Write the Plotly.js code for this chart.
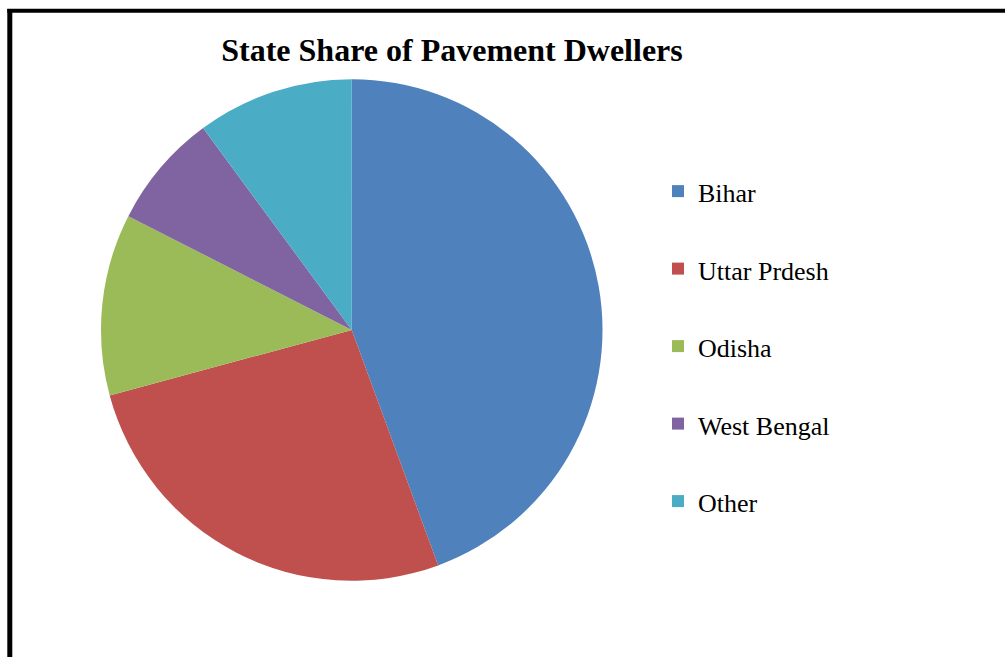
<!DOCTYPE html>
<html>
<head>
<meta charset="utf-8">
<script src="https://cdn.plot.ly/plotly-3.0.1.min.js"></script>
<style>html,body{margin:0;padding:0;background:#fff;}#chart{width:1005px;height:657px;}</style>
</head>
<body>
<div id="chart"></div>
<script>
const states = ["Bihar", "Uttar Prdesh", "Odisha", "West Bengal", "Other"];
const shares = [44.4, 26.4, 11.7, 7.4, 10.1];
const sliceColors = ["#4F81BD", "#C0504D", "#9BBB59", "#8064A2", "#4BACC6"];
const chartTitle = "State Share of Pavement Dwellers";

const W = 1005, H = 657;
const px = v => v / W;
const py = v => 1 - v / H;

const legendLabels = states.map(s => '<span style="font-size:26px">' + s + '</span><br> ');

const trace = {
  type: "pie",
  labels: legendLabels,
  values: shares,
  sort: false,
  direction: "clockwise",
  rotation: 0,
  textinfo: "none",
  hoverinfo: "none",
  marker: { colors: sliceColors, line: { width: 0 } },
  domain: { x: [px(101), px(602.5)], y: [py(581), py(79)] }
};

const layout = {
  width: W,
  height: H,
  margin: { l: 0, r: 0, t: 0, b: 0 },
  paper_bgcolor: "#ffffff",
  font: { family: "Liberation Serif, Times New Roman, serif", color: "#000000" },
  title: {
    text: "<b>" + chartTitle + "</b>",
    font: { family: "Liberation Serif, Times New Roman, serif", size: 32, color: "#000000" },
    x: px(452), xanchor: "center", xref: "paper",
    y: py(49.5), yanchor: "middle", yref: "container"
  },
  showlegend: true,
  legend: {
    x: px(658), xanchor: "left",
    y: py(166), yanchor: "top",
    font: { family: "Liberation Serif, Times New Roman, serif", size: 28.65, color: "#000000" },
    valign: "top",
    bgcolor: "rgba(0,0,0,0)",
    borderwidth: 0
  },
  shapes: [
    { type: "line", xref: "paper", yref: "paper", x0: px(9.8), x1: px(9.8), y0: -0.05, y1: py(9), line: { color: "#000000", width: 5 } },
    { type: "line", xref: "paper", yref: "paper", x0: px(7.3), x1: 1.05, y0: py(10.8), y1: py(10.8), line: { color: "#000000", width: 4 } }
  ]
};

Plotly.newPlot("chart", [trace], layout, { displayModeBar: false, staticPlot: true });
</script>
</body>
</html>
